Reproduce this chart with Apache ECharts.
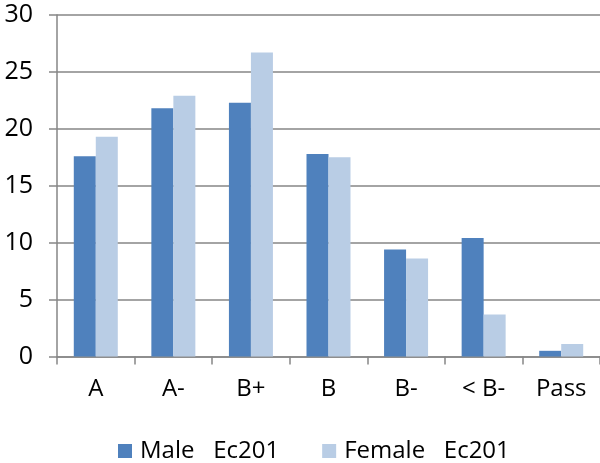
<!DOCTYPE html>
<html>
<head>
<meta charset="utf-8">
<script src="https://cdn.jsdelivr.net/npm/echarts@6/dist/echarts.min.js"></script>
<style>
html,body{margin:0;padding:0;background:#fff;}
#c{width:600px;height:463px;}
</style>
</head>
<body>
<div id="c"></div>
<script>
var categories = ['A', 'A-', 'B+', 'B', 'B-', '< B-', 'Pass'];
var maleValues = [17.6, 21.8, 22.3, 17.8, 9.4, 10.4, 0.5];
var femaleValues = [19.3, 22.9, 26.7, 17.5, 8.6, 3.7, 1.1];
var seriesNames = ['Male   Ec201', 'Female   Ec201'];
var yTicks = { min: 0, max: 30, interval: 5 };

var FONT = 'Open Sans';
var chart = echarts.init(document.getElementById('c'), null, { renderer: 'canvas' });
chart.setOption({
  animation: false,
  backgroundColor: '#ffffff',
  textStyle: { fontFamily: FONT },
  grid: { left: 57, top: 15, width: 546, height: 341.5, containLabel: false },
  legend: {
    left: 113,
    top: 434,
    itemWidth: 14,
    itemHeight: 14,
    itemGap: 43,
    icon: 'rect',
    textStyle: { fontFamily: FONT, fontSize: 24, color: '#000', padding: [0, 0, 0, 3] },
    data: seriesNames
  },
  xAxis: {
    type: 'category',
    data: categories,
    axisLine: { show: true, lineStyle: { color: '#868686', width: 1.5 } },
    axisTick: { show: true, length: 8, lineStyle: { color: '#868686', width: 1.5 } },
    axisLabel: { color: '#000', fontFamily: FONT, fontSize: 24, margin: 21 }
  },
  yAxis: {
    type: 'value',
    min: yTicks.min,
    max: yTicks.max,
    interval: yTicks.interval,
    axisLine: { show: true, lineStyle: { color: '#868686', width: 1.5 } },
    axisTick: { show: true, length: 8, lineStyle: { color: '#868686', width: 1.5 } },
    axisLabel: { color: '#000', fontFamily: FONT, fontSize: 25, margin: 24 },
    splitLine: { show: true, lineStyle: { color: '#868686', width: 1.5 } }
  },
  series: [
    {
      name: seriesNames[0],
      type: 'bar',
      data: maleValues,
      barWidth: 22,
      barGap: '0%',
      itemStyle: { color: '#4F81BD' }
    },
    {
      name: seriesNames[1],
      type: 'bar',
      data: femaleValues,
      barWidth: 22,
      barGap: '0%',
      itemStyle: { color: '#B9CDE5' }
    }
  ]
});
</script>
</body>
</html>
